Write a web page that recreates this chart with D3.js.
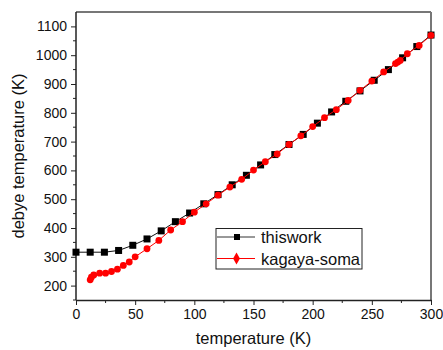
<!DOCTYPE html>
<html><head><meta charset="utf-8">
<script src="https://cdn.jsdelivr.net/npm/d3@7"></script>
<style>body{margin:0;background:#fff}svg{display:block}text{font-family:"Liberation Sans",Arial,sans-serif;fill:#111}</style>
</head><body>
<script>
const thisworkT = [0,12,24,36,48,60,72,84,96,108,120,132,144,156,168,180,192,204,216,228,240,252,264,276,288,300];
const thisworkV = [316,316,316,322,340,362,390,422,452,484,516,550,583,619,655,690,725,764,803,840,876,913,950,991,1030,1070];
const kagayaT = [12,13,15,20,25,30,35,40,45,50,60,70,80,90,100,110,120,130,140,150,160,170,180,190,200,210,220,230,240,250,260,270,272,274,280,290,300];
const kagayaV = [220,229,237,243,243,249,257,270,282,300,328,357,393,422,455,484,514,542,569,601,630,657,690,720,752,783,811,843,878,910,942,971,976,982,1005,1034,1069];
const xTicks = [0,50,100,150,200,250,300];
const yTicks = [200,300,400,500,600,700,800,900,1000,1100];
const seriesNames = ["thiswork","kagaya-soma"];
const xTitle = "temperature (K)", yTitle = "debye temperature (K)";

const W=443,H=350, L=76, R=431, T=12, B=300;
const svg=d3.select("body").append("svg").attr("width",W).attr("height",H);
const x=d3.scaleLinear().domain([0,300]).range([L,R]);
const y=d3.scaleLinear().domain([150,1150]).range([B,T]);

svg.append("line").attr("x1",L).attr("x2",R).attr("y1",T).attr("y2",T).attr("stroke","#777").attr("stroke-width",2);
svg.append("line").attr("x1",R).attr("x2",R).attr("y1",T).attr("y2",B).attr("stroke","#777").attr("stroke-width",2);

const xMinor=d3.range(25,300,50), yMinor=d3.range(150,1150,50).filter(v=>v%100!==0);
svg.append("g").selectAll("line").data(xMinor).join("line")
  .attr("x1",d=>x(d)).attr("x2",d=>x(d)).attr("y1",B).attr("y2",B+3).attr("stroke","#222");
svg.append("g").selectAll("line").data(yMinor).join("line")
  .attr("y1",d=>y(d)).attr("y2",d=>y(d)).attr("x1",L).attr("x2",L-3).attr("stroke","#222");

const fmt=d3.format("d");
const xa=svg.append("g").attr("transform",`translate(0,${B})`)
  .call(d3.axisBottom(x).tickValues(xTicks).tickFormat(fmt).tickSize(5).tickPadding(4).tickSizeOuter(0));
const ya=svg.append("g").attr("transform",`translate(${L},0)`)
  .call(d3.axisLeft(y).tickValues(yTicks).tickFormat(fmt).tickSize(5).tickPadding(4).tickSizeOuter(0));
[xa,ya].forEach(a=>{a.select(".domain").attr("stroke","#222").attr("stroke-width",1.5);
  a.selectAll(".tick line").attr("stroke","#222");
  a.selectAll("text").style("font-size","14px").style("font-family","'Liberation Sans',Arial,sans-serif").attr("fill","#222");});
ya.select(".domain").attr("d",`M0,${B}V${T}`);

svg.append("text").attr("x",(L+R)/2).attr("y",344).attr("text-anchor","middle").style("font-size","16.5px").text(xTitle);
svg.append("text").attr("transform",`translate(24,${(T+B)/2}) rotate(-90)`).attr("text-anchor","middle").style("font-size","16.5px").text(yTitle);

const d1=thisworkT.map((t,i)=>[t,thisworkV[i]]), d2=kagayaT.map((t,i)=>[t,kagayaV[i]]);
const line=d3.line().x(d=>x(d[0])).y(d=>y(d[1]));
svg.append("path").datum(d1).attr("d",line).attr("fill","none").attr("stroke","#111").attr("stroke-width",1);
svg.append("g").selectAll("rect").data(d1).join("rect")
  .attr("x",d=>x(d[0])-3.5).attr("y",d=>y(d[1])-3.5).attr("width",7).attr("height",7).attr("fill","#000");
svg.append("path").datum(d2).attr("d",line).attr("fill","none").attr("stroke","#f00").attr("stroke-width",1);
svg.append("g").selectAll("circle").data(d2).join("circle")
  .attr("cx",d=>x(d[0])).attr("cy",d=>y(d[1])).attr("r",3.4).attr("fill","#f00");

const lg=svg.append("g");
lg.append("rect").attr("x",216).attr("y",228.5).attr("width",146).attr("height",40.5).attr("fill","#fff").attr("stroke","#222").attr("stroke-width",1);
const rows=[{n:seriesNames[0],c:"#333",y:237},{n:seriesNames[1],c:"#f00",y:258.5}];
rows.forEach((r,i)=>{
  lg.append("line").attr("x1",217).attr("x2",255).attr("y1",r.y).attr("y2",r.y).attr("stroke",r.c).attr("stroke-width",1);
  if(i===0) lg.append("rect").attr("x",234).attr("y",r.y-3).attr("width",6).attr("height",6).attr("fill","#000");
  else lg.append("path").attr("transform",`translate(236.5,${r.y})`).attr("d",d3.symbol(d3.symbolDiamond,40)()).attr("fill","#f00");
  lg.append("text").attr("x",261).attr("y",r.y+6).style("font-size","16.5px").text(r.n);
});
</script>
</body></html>
